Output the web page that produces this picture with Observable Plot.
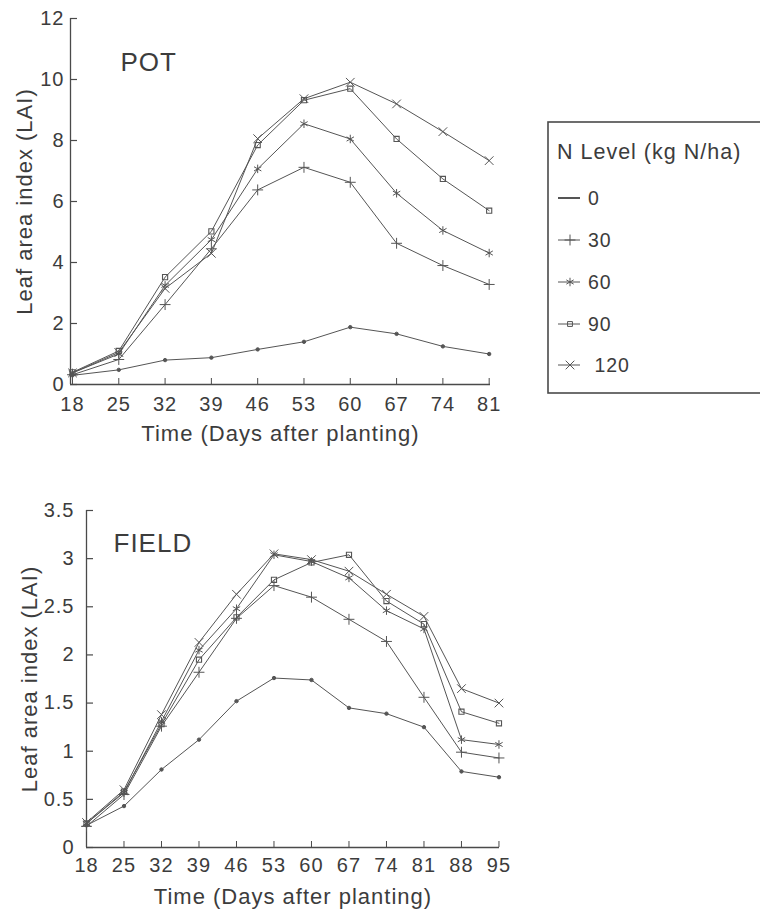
<!DOCTYPE html>
<html><head><meta charset="utf-8">
<script src="https://cdn.jsdelivr.net/npm/d3@7"></script>
<script src="https://cdn.jsdelivr.net/npm/@observablehq/plot@0.6"></script>
<style>
html,body{margin:0;padding:0;background:#fff;}
#wrap{position:relative;width:760px;height:915px;overflow:hidden;font-family:"Liberation Sans",Arial,Helvetica,sans-serif;background:#fff;}
#wrap svg text{letter-spacing:1px;}
.panel{position:absolute;left:0;}
</style></head><body><div id="wrap"></div>
<script>
// ---- data ----
const levels = ["0", "30", "60", "90", "120"];
const legendTitle = "N Level (kg N/ha)";
const legendLabels = ["0", "30", "60", "90", " 120"];
const yLabel = "Leaf area index (LAI)";
const xLabel = "Time (Days after planting)";

const potDays = [18, 25, 32, 39, 46, 53, 60, 67, 74, 81];
const potN0   = [0.30, 0.48, 0.80, 0.88, 1.15, 1.40, 1.88, 1.66, 1.25, 1.00];
const potN30  = [0.32, 0.82, 2.62, 4.45, 6.38, 7.12, 6.63, 4.63, 3.90, 3.28];
const potN60  = [0.38, 1.00, 3.25, 4.75, 7.07, 8.55, 8.05, 6.27, 5.05, 4.31];
const potN90  = [0.40, 1.10, 3.52, 5.02, 7.85, 9.32, 9.70, 8.05, 6.74, 5.70];
const potN120 = [0.38, 1.05, 3.15, 4.30, 8.06, 9.37, 9.91, 9.20, 8.29, 7.34];
const potYTicks = [0, 2, 4, 6, 8, 10, 12];

const fieldDays = [18, 25, 32, 39, 46, 53, 60, 67, 74, 81, 88, 95];
const fieldN0   = [0.23, 0.43, 0.81, 1.12, 1.52, 1.76, 1.74, 1.45, 1.39, 1.25, 0.79, 0.73];
const fieldN30  = [0.22, 0.55, 1.26, 1.82, 2.38, 2.72, 2.60, 2.37, 2.14, 1.56, 0.99, 0.93];
const fieldN60  = [0.25, 0.57, 1.31, 2.05, 2.48, 3.04, 2.97, 2.80, 2.46, 2.27, 1.12, 1.07];
const fieldN90  = [0.25, 0.58, 1.28, 1.95, 2.39, 2.78, 2.96, 3.04, 2.56, 2.32, 1.41, 1.29];
const fieldN120 = [0.26, 0.60, 1.38, 2.13, 2.63, 3.05, 2.99, 2.87, 2.63, 2.40, 1.65, 1.50];
const fieldYTicks = [0, 0.5, 1, 1.5, 2, 2.5, 3, 3.5];

// ---- styles ----
const INK = "#3c3c3c";
const LINE = "#555";
const AX = "#4a4a4a";
const FONT = '"Liberation Sans", Arial, Helvetica, sans-serif';
const markStyle = {
  "0":   {symbol: "circle",   r: 1.7, fill: LINE, stroke: LINE, strokeWidth: 1},
  "30":  {symbol: "plus",     r: 3.6, fill: "none", stroke: LINE, strokeWidth: 1},
  "60":  {symbol: "asterisk", r: 4.0, fill: "none", stroke: LINE, strokeWidth: 1},
  "90":  {symbol: "square",   r: 2.9, fill: "none", stroke: LINE, strokeWidth: 1.1},
  "120": {symbol: "times",    r: 4.0, fill: "none", stroke: LINE, strokeWidth: 1}
};

function tidy(days, series) {
  const out = [];
  levels.forEach((lv, i) => series[i].forEach((v, j) => out.push({day: days[j], lai: v, level: lv})));
  return out;
}

function panel(o) {
  const data = tidy(o.days, o.series);
  const innerH = o.height - o.marginTop - o.marginBottom;
  const innerW = o.width - o.marginLeft - o.marginRight;
  return Plot.plot({
    width: o.width, height: o.height,
    marginLeft: o.marginLeft, marginRight: o.marginRight, marginTop: o.marginTop, marginBottom: o.marginBottom,
    style: {fontFamily: FONT, fontSize: "20px", color: INK, background: "transparent", overflow: "visible"},
    x: {domain: o.xDomain},
    y: {domain: o.yDomain},
    marks: [
      Plot.axisX({ticks: o.days, tickSize: 0, tickPadding: o.xPad, tickFormat: d => String(d), label: null, fontSize: 20, fill: INK}),
      Plot.axisY({ticks: o.yTicks, tickSize: 0, tickPadding: o.yPad, tickFormat: d => String(d), label: null, fontSize: 20, fill: INK}),
      Plot.tickX(o.days, {x: d => d, insetTop: innerH - 6, stroke: AX, strokeWidth: 1}),
      Plot.tickY(o.yTicks, {y: d => d, insetRight: innerW - 7, stroke: AX, strokeWidth: 1.2}),
      Plot.ruleY([o.yDomain[0]], {stroke: AX, strokeWidth: 1.5}),
      Plot.ruleX([o.xDomain[0]], {stroke: AX, strokeWidth: 1.3}),
      Plot.line(data, {x: "day", y: "lai", z: "level", stroke: LINE, strokeWidth: 1}),
      ...levels.map(lv => Plot.dot(data.filter(d => d.level === lv), {x: "day", y: "lai", ...markStyle[lv]})),
      Plot.text([o.title], {frameAnchor: "top-left", dx: o.titleDx, dy: o.titleDy, textAnchor: "start", fontSize: 26, fill: INK, text: d => d}),
      Plot.text([yLabel], {frameAnchor: "left", dx: o.yLabelDx, rotate: -90, textAnchor: "middle", lineAnchor: "middle", fontSize: 22, fill: INK, text: d => d}),
      Plot.text([xLabel], {frameAnchor: "bottom", dy: 56, textAnchor: "middle", fontSize: 22, fill: INK, text: d => d})
    ]
  });
}

const wrap = document.getElementById("wrap");

const pot = panel({
  days: potDays, series: [potN0, potN30, potN60, potN90, potN120],
  xDomain: [17.7, 81.2], yDomain: [0, 12], yTicks: potYTicks,
  width: 520, height: 460, marginLeft: 70, marginRight: 30, marginTop: 18, marginBottom: 76,
  xPad: 12, yPad: 6, title: "POT", titleDx: 50, titleDy: 34, yLabelDx: -46
});
pot.classList.add("panel"); pot.style.top = "0px";
wrap.appendChild(pot);

const field = panel({
  days: fieldDays, series: [fieldN0, fieldN30, fieldN60, fieldN90, fieldN120],
  xDomain: [18, 95.1], yDomain: [0, 3.5], yTicks: fieldYTicks,
  width: 530, height: 445, marginLeft: 86, marginRight: 31, marginTop: 40, marginBottom: 68,
  xPad: 10, yPad: 12, title: "FIELD", titleDx: 27, titleDy: 23, yLabelDx: -57
});
field.classList.add("panel"); field.style.top = "470px";
wrap.appendChild(field);

// ---- legend ----
const lg = d3.select(wrap).append("svg")
  .attr("width", 230).attr("height", 310)
  .style("position", "absolute").style("left", "530px").style("top", "100px")
  .style("font-family", FONT);
lg.append("rect").attr("x", 18).attr("y", 22).attr("width", 260).attr("height", 271)
  .attr("fill", "none").attr("stroke", AX).attr("stroke-width", 1.6);
lg.append("text").attr("x", 27).attr("y", 59).attr("font-size", 21.5).attr("fill", INK).text(legendTitle);
const rowY = [98, 140, 182, 224, 265];
const symMap = {circle: d3.symbolCircle, plus: d3.symbolPlus, asterisk: d3.symbolAsterisk, square: d3.symbolSquare2, times: d3.symbolTimes};
levels.forEach((lv, i) => {
  const g = lg.append("g").attr("transform", `translate(0,${rowY[i]})`);
  g.append("line").attr("x1", 28).attr("x2", 50).attr("y1", 0).attr("y2", 0)
    .attr("stroke", LINE).attr("stroke-width", lv === "0" ? 2 : 1);
  const ms = markStyle[lv];
  const sz = ms.symbol === "square" ? 30 : Math.PI * ms.r * ms.r;
  if (lv !== "0") {
    g.append("path").attr("transform", "translate(40,0)")
      .attr("d", d3.symbol(symMap[ms.symbol], sz)())
      .attr("fill", "none").attr("stroke", LINE).attr("stroke-width", 1);
  }
  g.append("text").attr("x", 58).attr("y", 0).attr("dy", "0.36em").attr("font-size", 19.5)
    .attr("fill", INK).style("white-space", "pre").text(legendLabels[i]);
});
</script>
</body></html>
